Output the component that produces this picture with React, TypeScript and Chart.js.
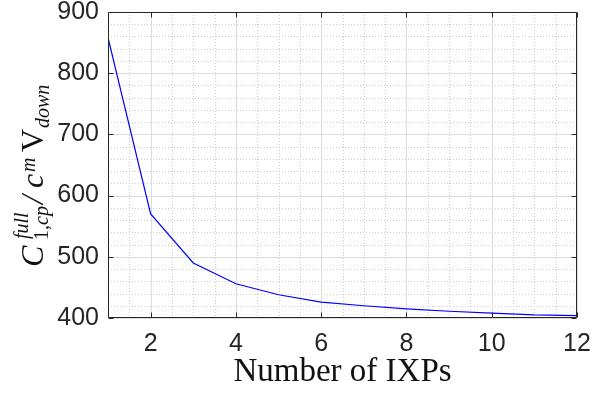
import React, { useEffect, useRef } from "react";
import { Chart, registerables } from "chart.js";

Chart.register(...registerables);

// ---- data ----
const ixps = [1, 2, 3, 4, 5, 6, 7, 8, 9, 10, 11, 12];
const costRatio = [858, 570, 490, 456, 438, 426, 420, 415, 411, 408, 405, 404];
const xTickValues = [2, 4, 6, 8, 10, 12];
const yTickValues = [400, 500, 600, 700, 800, 900];
const xMin = 1;
const xMax = 12;
const yMin = 400;
const yMax = 900;
const xMinorStep = 0.5;
const yMinorStep = 20;
const xTitle = "Number of IXPs";

const AXIS_COLOR = "#262626";
const MAJOR_GRID = "#dcdcdc";
const MINOR_GRID = "#cdcdcd";

function drawYLabel(ctx: CanvasRenderingContext2D) {
  const serif = '"Liberation Serif", "Times New Roman", serif';
  const bigI = `italic 32px ${serif}`;
  const bigR = `32px ${serif}`;
  const smI = `italic 20px ${serif}`;
  const smR = `20px ${serif}`;
  ctx.save();
  ctx.translate(43, 267);
  ctx.rotate(-Math.PI / 2);
  ctx.fillStyle = "#111";
  ctx.textBaseline = "alphabetic";
  ctx.textAlign = "left";
  const put = (t: string, font: string, x: number, dy: number) => {
    ctx.font = font;
    ctx.fillText(t, x, dy);
    return x + ctx.measureText(t).width;
  };
  // C^{full}_{1,cp}
  put("C", bigI, 0, 0);
  put("full", smI, 28, -15);
  const x = put("1", smR, 27, 5);
  put(",cp", smI, x, 5);
  // /
  put("/", bigI, 63, 0);
  // c^m
  put("c", bigI, 79, 0);
  put("m", smI, 95, -8);
  // V_down
  put("V", bigR, 115, 0);
  put("down", smI, 139, 6);
  ctx.restore();
}

const matlabPlugin = {
  id: "matlabAxes",
  beforeDatasetsDraw(chart: any) {
    const { ctx, chartArea: a, scales } = chart;
    const xs = scales.x;
    const ys = scales.y;
    ctx.save();
    ctx.lineWidth = 1;
    // minor grid (dotted)
    ctx.strokeStyle = MINOR_GRID;
    ctx.setLineDash([1, 2]);
    ctx.beginPath();
    for (let v = xMin + xMinorStep; v < xMax - 1e-9; v += xMinorStep) {
      if (xTickValues.some((t) => Math.abs(t - v) < 1e-9)) continue;
      const px = Math.round(xs.getPixelForValue(v)) + 0.5;
      ctx.moveTo(px, a.top);
      ctx.lineTo(px, a.bottom);
    }
    for (let v = yMin + yMinorStep; v < yMax - 1e-9; v += yMinorStep) {
      if (yTickValues.some((t) => Math.abs(t - v) < 1e-9)) continue;
      const py = Math.round(ys.getPixelForValue(v)) + 0.5;
      ctx.moveTo(a.left, py);
      ctx.lineTo(a.right, py);
    }
    ctx.stroke();
    // major grid (solid)
    ctx.setLineDash([]);
    ctx.strokeStyle = MAJOR_GRID;
    ctx.beginPath();
    for (const v of xTickValues) {
      const px = Math.round(xs.getPixelForValue(v)) + 0.5;
      ctx.moveTo(px, a.top);
      ctx.lineTo(px, a.bottom);
    }
    for (const v of yTickValues) {
      const py = Math.round(ys.getPixelForValue(v)) + 0.5;
      ctx.moveTo(a.left, py);
      ctx.lineTo(a.right, py);
    }
    ctx.stroke();
    ctx.restore();
  },
  afterDatasetsDraw(chart: any) {
    const { ctx, chartArea: a, scales } = chart;
    const xs = scales.x;
    const ys = scales.y;
    ctx.save();
    ctx.lineWidth = 1;
    ctx.strokeStyle = AXIS_COLOR;
    const L = Math.round(a.left) + 0.5;
    const R = Math.round(a.right) - 0.5;
    const T = Math.round(a.top) + 0.5;
    const B = Math.round(a.bottom) - 0.5;
    ctx.beginPath();
    ctx.rect(L, T, R - L, B - T);
    const tl = 5;
    for (const v of xTickValues) {
      const px = Math.round(xs.getPixelForValue(v)) + 0.5;
      ctx.moveTo(px, B);
      ctx.lineTo(px, B - tl);
      ctx.moveTo(px, T);
      ctx.lineTo(px, T + tl);
    }
    for (const v of yTickValues) {
      const py = Math.round(ys.getPixelForValue(v)) + 0.5;
      ctx.moveTo(L, py);
      ctx.lineTo(L + tl, py);
      ctx.moveTo(R, py);
      ctx.lineTo(R - tl, py);
    }
    ctx.stroke();
    ctx.restore();
    drawYLabel(ctx);
  },
};

export default function App() {
  const canvasRef = useRef<HTMLCanvasElement | null>(null);

  useEffect(() => {
    document.body.style.margin = "0";
    const canvas = canvasRef.current;
    if (!canvas) return;
    const chart = new Chart(canvas, {
      type: "line",
      data: {
        labels: ixps,
        datasets: [
          {
            data: ixps.map((v, i) => ({ x: v, y: costRatio[i] })),
            borderColor: "#0000ff",
            borderWidth: 1.2,
            pointRadius: 0,
            tension: 0,
            fill: false,
          },
        ],
      },
      options: {
        responsive: false,
        animation: false,
        events: [],
        layout: { padding: { left: 0, right: 15, top: 12, bottom: 0 } },
        plugins: { legend: { display: false }, tooltip: { enabled: false } },
        scales: {
          x: {
            type: "linear",
            min: xMin,
            max: xMax,
            afterBuildTicks: (s: any) => {
              s.ticks = xTickValues.map((v) => ({ value: v }));
            },
            afterFit: (s: any) => {
              s.height = 75;
              s.paddingLeft = 0;
              s.paddingRight = 0;
            },
            grid: { display: false, drawTicks: false },
            border: { display: false },
            ticks: {
              autoSkip: false,
              maxRotation: 0,
              padding: 11,
              color: AXIS_COLOR,
              font: { family: '"Liberation Sans", Arial, sans-serif', size: 25 },
            },
            title: {
              display: true,
              text: xTitle,
              color: "#111",
              padding: { top: 0, bottom: 1 },
              font: { family: '"Liberation Serif", "Times New Roman", serif', size: 33, lineHeight: 1.2 },
            },
          },
          y: {
            type: "linear",
            min: yMin,
            max: yMax,
            afterBuildTicks: (s: any) => {
              s.ticks = yTickValues.map((v) => ({ value: v }));
            },
            afterFit: (s: any) => {
              s.width = 108;
              s.paddingTop = 0;
              s.paddingBottom = 0;
            },
            grid: { display: false, drawTicks: false },
            border: { display: false },
            ticks: {
              padding: 9,
              color: AXIS_COLOR,
              font: { family: '"Liberation Sans", Arial, sans-serif', size: 25 },
            },
          },
        },
      },
      plugins: [matlabPlugin],
    });
    return () => chart.destroy();
  }, []);

  return (
    <div style={{ width: 592, height: 393, background: "#fff" }}>
      <canvas ref={canvasRef} width={592} height={393} style={{ display: "block" }} />
    </div>
  );
}
